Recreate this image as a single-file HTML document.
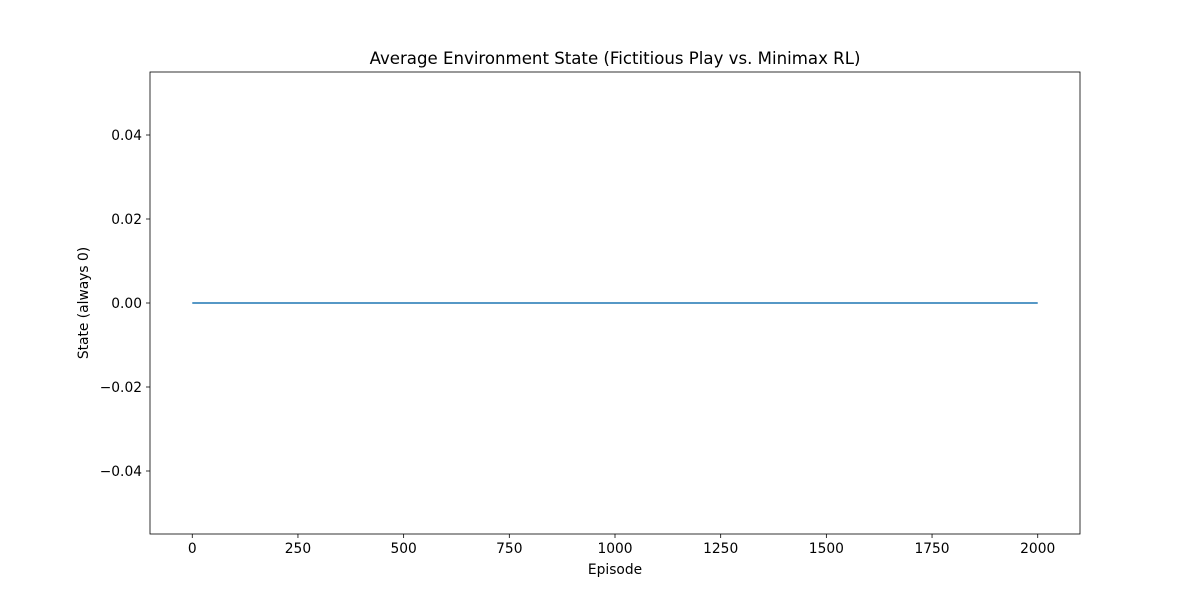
<!DOCTYPE html>
<html><head><meta charset="utf-8"><style>
body{margin:0;background:#fff;}
svg text{font-family:"DejaVu Sans","Liberation Sans",sans-serif;fill:#000;}
</style></head><body>
<svg width="1200" height="600" viewBox="0 0 1200 600">
<rect width="1200" height="600" fill="#fff"/>
<g id="plot"></g>
</svg>
<script>
const episodes=[0,250,500,750,1000,1250,1500,1750,2000];
const stateValues=[0,0,0,0,0,0,0,0,0];
const xTicks=[0,250,500,750,1000,1250,1500,1750,2000];
const yTicks=[-0.04,-0.02,0.00,0.02,0.04];
const yTickLabels=["−0.04","−0.02","0.00","0.02","0.04"];
const L=150,R=1080,T=72,B=534;
const xMin=-100,xMax=2100,yMin=-0.055,yMax=0.055;
const xs=v=>L+(v-xMin)/(xMax-xMin)*(R-L);
const ys=v=>B-(v-yMin)/(yMax-yMin)*(B-T);
const NS="http://www.w3.org/2000/svg";
const g=document.getElementById('plot');
function mk(t,a,txt){const e=document.createElementNS(NS,t);for(const k in a)e.setAttribute(k,a[k]);if(txt!=null)e.textContent=txt;g.appendChild(e);return e;}
xTicks.forEach(v=>{const x=xs(v);
const t=mk('line',{x1:x,x2:x,y1:B,y2:B+4,stroke:'#000','stroke-width':0.8});


const l=mk('text',{x:x,y:B+19,'font-size':13.8,'text-anchor':'middle'},String(v));

});
yTicks.forEach((v,i)=>{const y=ys(v);
const t=mk('line',{x1:L-4,x2:L,y1:y,y2:y,stroke:'#000','stroke-width':0.8});


const l=mk('text',{x:L-8,y:y+5,'font-size':13.8,'text-anchor':'end'},yTickLabels[i]);

});
const d=episodes.map((e,i)=>(i?'L':'M')+xs(e)+','+ys(stateValues[i])).join(' ');
const p=mk('path',{d:d,fill:'none',stroke:'#1f77b4','stroke-width':1.5});


const fr=mk('rect',{x:L,y:T,width:R-L,height:B-T,fill:'none',stroke:'#000','stroke-width':0.8});


const ti=mk('text',{x:(L+R)/2,y:T-8,'font-size':16.6,'text-anchor':'middle'},'Average Environment State (Fictitious Play vs. Minimax RL)');


const xl=mk('text',{x:(L+R)/2,y:B+40,'font-size':13.8,'text-anchor':'middle'},'Episode');


const yl=mk('text',{x:0,y:0,'font-size':13.8,'text-anchor':'middle',transform:'translate(88,'+((T+B)/2)+') rotate(-90)'},'State (always 0)');


</script>
</body></html>
